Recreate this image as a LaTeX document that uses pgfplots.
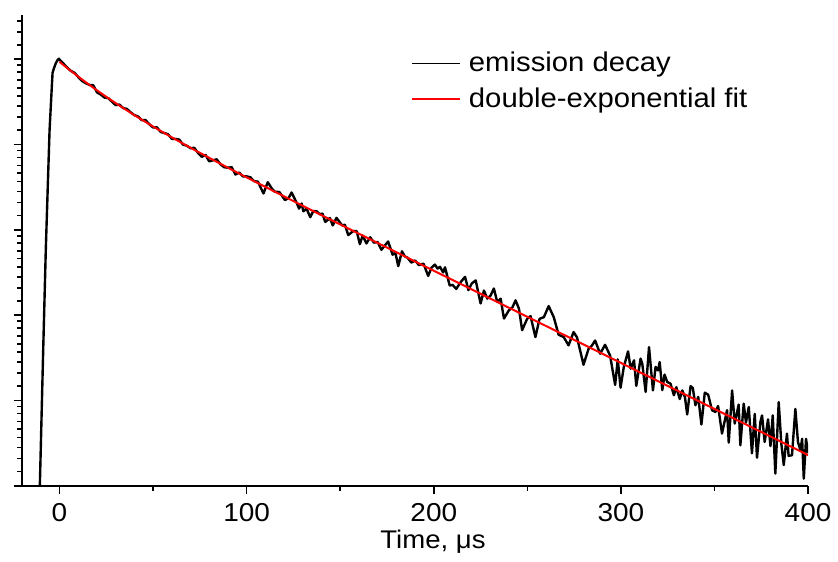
\documentclass[border=0pt]{standalone}
\usepackage{fontspec}
\setmainfont{Liberation Sans}[FakeStretch=1.08]
\usepackage{pgfplots}
\pgfplotsset{compat=1.18}

\begin{document}
\begin{tikzpicture}
\begin{axis}[
  scale only axis,
  width=394.25pt, height=236.15pt,
  ymode=log,
  xmin=-20, xmax=400,
  ymin=1, ymax=3.292e5,
  axis x line*=bottom,
  axis y line*=left,
  axis line style={line width=0.85pt},
  tick align=outside,
  every tick/.style={black, line width=0.85pt},
  major tick length=4.2pt,
  minor tick length=2.4pt,
  xtick={0,100,200,300,400},
  minor xtick={50,150,250,350},
  ytick={1,10,100,1000,10000,100000},
  minor ytick={1.47,2.09,2.81,3.68,4.61,5.67,7.05,8.51,
    14.7,20.9,28.1,36.8,46.1,56.7,70.5,85.1,
    147,209,281,368,461,567,705,851,
    1470,2090,2810,3680,4610,5670,7050,8510,
    14700,20900,28100,36800,46100,56700,70500,85100,
    147000,209000,281000},
  yticklabels={},
  /pgf/number format/assume math mode=true,
  xticklabel style={font=\fontsize{13}{15}\selectfont, anchor=base, inner sep=0pt, yshift=-13.5pt},
  xlabel={Time, μs},
  xlabel style={at={(axis description cs:0.5228,0)}, anchor=base, yshift=-31.5pt,
    font=\fontsize{12.8}{15}\selectfont},
  legend cell align=left,
  legend image code/.code={\draw[#1, line width=0.8pt] (0pt,0pt) -- (24pt,0pt);},
  legend style={draw=none, fill=none, at={(0.495,0.93)}, anchor=north west,
    font=\fontsize{13.6}{16}\selectfont, row sep=2.4pt, column sep=2pt,
    inner sep=0pt},
]

% measured emission trace
\addplot[black, line width=1.2pt, line join=round] coordinates {
(-12,0.316) (-10.5,1.0) (-10.0,2.754) (-8.7,39.8) (-7.3,602.6) (-6.2,3548)
(-5.3,14791) (-4.4,35481) (-3.7,69183) (-3.0,77625) (-2.0,89125) (-1.0,97724)
(-0.3,101160) (0,98860) (2,89136) (4,80043) (6,72940) (8,69281) (10,61593)
(12,55551) (14,52228) (16,49823) (18,49536) (20,40835) (22,38548) (24,35459)
(26,34919) (28,31748) (30,28894) (32,29310) (34,26718) (36,26072) (38,23803)
(40,22044) (42,21271) (44,19203) (46,19318) (48,17229) (50,15792) (52,15917)
(54,14030) (56,13595) (58,13180) (60,11634) (62,11597) (64,11412) (66,9951)
(68,9668) (70,9025) (72,9136) (74,7977) (76,7160) (78,7552) (80,6340)
(82,6513) (84,6694) (86,5856) (88,5405) (90,5339) (92,5418) (94,4434)
(96,4687) (98,4216) (100,4224) (102,4121) (104,3708) (106,3667) (109,2664)
(111.3,3611) (113.4,3048) (115,2796) (117.5,2768) (120.5,2224) (122.5,2373)
(124,2736) (126.7,2077) (128,1771) (129.4,2031) (130.3,1644) (132,1769)
(134,1404) (135.6,1659) (137.5,1646) (139,1523) (140.5,1548) (142,1234)
(144.5,1373) (146,1125) (148,1379) (151,1126) (152.5,1145) (154.3,866)
(157,969) (158.8,964) (160.5,678) (162,855) (164,692) (166,817) (168,707)
(170,719) (172,582) (174,660) (175.6,729) (178,511) (179.5,537) (181,375)
(183,559) (184.5,488) (186,470) (188,412) (190,437) (192,386) (194.5,401)
(197,288) (198.8,360) (200.6,391) (202,351) (203.3,368) (205,317) (206,363)
(208.5,222) (210,226) (212,203) (214.4,244) (216.7,281) (218.5,196.5)
(220.3,235) (222.4,255) (225,137) (226.8,194) (228.6,156) (230.3,169)
(232.1,205) (233.9,142.5) (235.7,156) (237.5,91.1) (240.1,113.6) (242,123)
(243.7,149) (245.5,119) (247.2,66.6) (249.9,90.7) (251.7,97.4) (254.3,55.3)
(256.5,90.5) (258.8,94.6) (261.4,127.5) (264.1,94.6) (266.7,58.9) (269.4,55.4)
(272,44.2) (274.7,63.2) (276.5,55.0) (278.2,38.5) (280,26.2) (282.7,40.3)
(284.5,43.9) (286.2,50.4) (288.9,35.3) (291.5,44.9) (294.2,33.6) (296.9,15.2)
(298.3,30.3) (299.8,14.1) (301.5,24.5) (303.8,37.6) (305.2,23.6) (307,29.5)
(308.2,14.8) (310.5,30.9) (311.4,26.9) (313.2,12.6) (315,42.2) (317.1,13.1)
(318.5,24.7) (319.8,22.5) (320.7,28.2) (322.1,13.2) (323.3,20.1) (324.7,16.5)
(326.5,15.7) (328.3,11.5) (329.6,14.3) (331.4,10.4) (332.8,13.1) (334.2,10.9)
(335.4,6.85) (337.2,14.7) (338.4,14.0) (339.8,8.78) (341.3,10.98) (343,5.23)
(344.8,12.35) (346.6,11.68) (348.7,7.67) (350.5,7.33) (351.9,8.62) (354,4.09)
(356.7,7.69) (357.6,3.21) (359.4,13.1) (360.8,5.35) (362.9,8.94) (363.8,2.98)
(365.6,9.16) (366.8,5.50) (368.3,8.38) (370,2.40) (371.5,6.97) (372.7,2.13)
(374.5,5.59) (375.4,6.67) (376.8,3.26) (378.6,6.00) (379.9,2.92) (381.1,6.68)
(382.5,1.39) (384.3,9.56) (385.7,3.11) (387,1.75) (388.7,4.08) (389.6,2.24)
(391.4,2.28) (393.2,7.96) (394.6,3.25) (395.9,2.61) (396.8,3.55) (397.7,1.21)
(398.9,3.55) (400,2.40)
};
\addlegendentry{emission decay}

% fitted curve
\addplot[red, line width=1pt] coordinates {
(0,92903) (5,75890) (10,62423) (15,51698) (20,43093) (25,36144) (30,30492)
(40,22044) (50,16224) (60,12114) (70,9146) (80,6966) (90,5339) (100,4111)
(120,2461) (140,1484) (160,899) (180,546) (200,331.1) (220,201.4) (240,122.5)
(260,74.47) (280,45.29) (300,27.54) (320,16.75) (340,10.19) (360,6.19)
(380,3.77) (400,2.29)
};
\addlegendentry{double-exponential fit}
\end{axis}
\path ([xshift=-9.75pt,yshift=-37.85pt]current axis.south west)
  rectangle ([xshift=15pt,yshift=7.5pt]current axis.north east);
\end{tikzpicture}
\end{document}
